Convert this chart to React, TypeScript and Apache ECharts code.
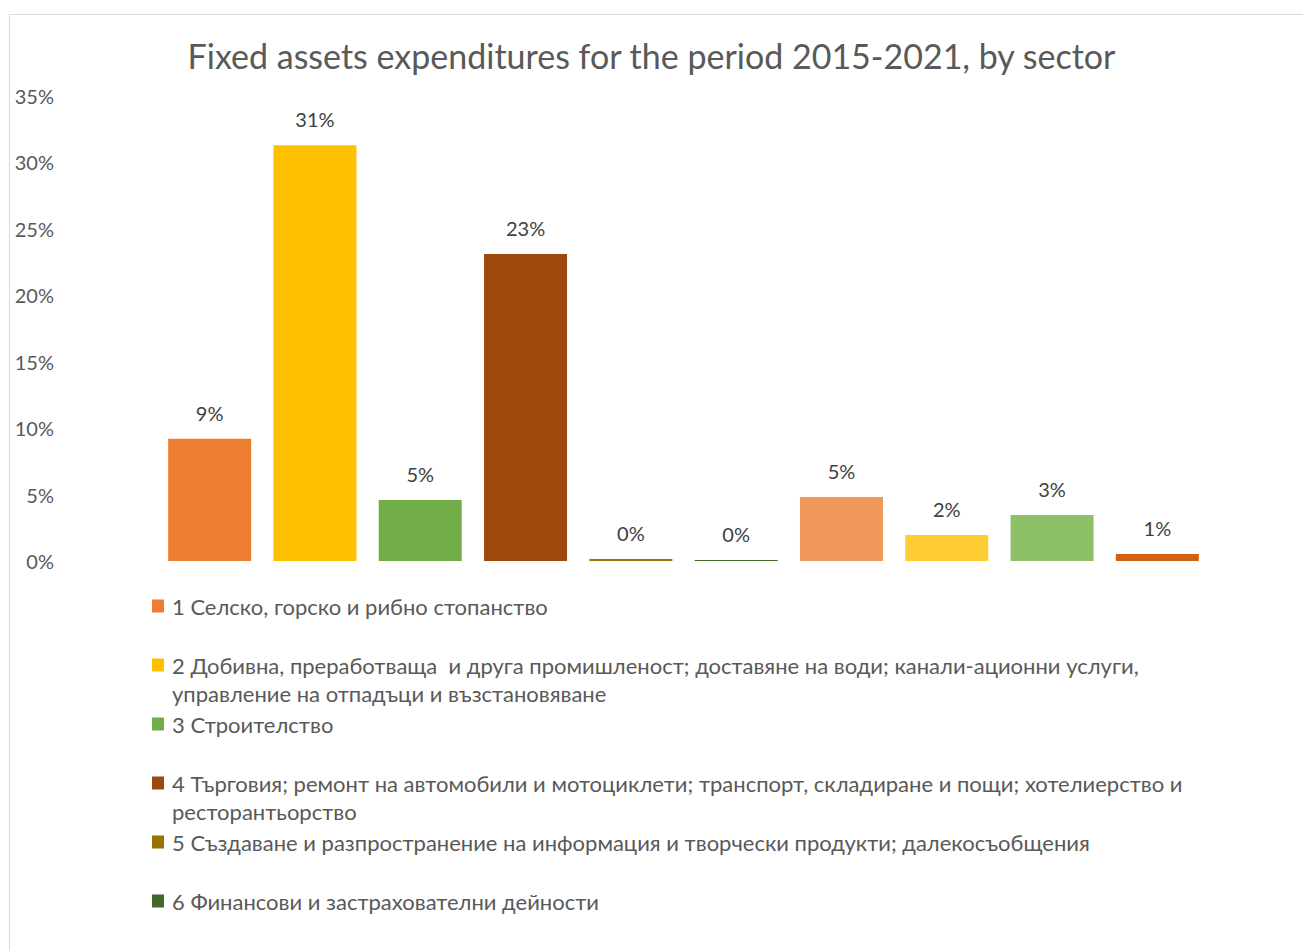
import React, { useEffect, useRef } from "react";
import * as echarts from "echarts";

const sectors = [
  "1 Селско, горско и рибно стопанство",
  "2 Добивна, преработваща  и друга промишленост; доставяне на води; канали-ационни услуги, управление на отпадъци и възстановяване",
  "3 Строителство",
  "4 Търговия; ремонт на автомобили и мотоциклети; транспорт, складиране и пощи; хотелиерство и ресторантьорство",
  "5 Създаване и разпространение на информация и творчески продукти; далекосъобщения",
  "6 Финансови и застрахователни дейности",
  "7 Операции с недвижими имоти",
  "8 Професионални дейности и научни изследвания; административни и спомагателни дейности",
  "9 Държавно управление; образование; хуманно здравеопазване и социална работа",
  "10 Култура, спорт и развлечения; други дейности",
];

// legend text as wrapped in the reference
const legendLabels = [
  "1 Селско, горско и рибно стопанство",
  "2 Добивна, преработваща  и друга промишленост; доставяне на води; канали-ационни услуги,\nуправление на отпадъци и възстановяване",
  "3 Строителство",
  "4 Търговия; ремонт на автомобили и мотоциклети; транспорт, складиране и пощи; хотелиерство и\nресторантьорство",
  "5 Създаване и разпространение на информация и творчески продукти; далекосъобщения",
  "6 Финансови и застрахователни дейности",
];

const shares = [9.2, 31.3, 4.6, 23.1, 0.15, 0.07, 4.82, 1.96, 3.46, 0.52];

const colors = [
  "#ED7D31",
  "#FFC000",
  "#70AD47",
  "#9E480E",
  "#997300",
  "#43682B",
  "#F1975A",
  "#FFCD33",
  "#8CC168",
  "#D26012",
];

const yTicks = [0, 5, 10, 15, 20, 25, 30, 35];

const FONT = "Lato, 'Noto Sans', sans-serif";

export default function App() {
  const ref = useRef<HTMLDivElement>(null);

  useEffect(() => {
    if (!ref.current) return;
    const chart = echarts.init(ref.current, undefined, { renderer: "svg" });

    const series = sectors.map((name, i) => ({
      type: "bar",
      name,
      stack: "total",
      barWidth: 83,
      itemStyle: { color: colors[i] },
      data: shares.map((v, j) => (j === i ? v : null)),
      label: {
        show: true,
        position: "top",
        distance: 16,
        color: "#404040",
        fontSize: 20,
        fontFamily: FONT,
        formatter: (p: any) => (p.value == null ? "" : Math.round(p.value) + "%"),
      },
    }));

    const legendCenters = [606, 665, 724, 783, 842, 901];
    const legends = legendLabels.map((label, i) => {
      const two = label.indexOf("\n") >= 0;
      return {
        data: [sectors[i]],
        orient: "vertical",
        left: 152,
        top: legendCenters[i] - 14,
        padding: 0,
        itemWidth: 15,
        itemHeight: two ? 41 : 13,
        itemGap: 0,
        icon: two ? "path://M0,0h12v13h-12zM15,41h0.01" : "path://M0,0h12v13h-12zM15,13h0.01",
        selectedMode: false,
        formatter: () => label,
        textStyle: {
          color: "#595959",
          fontSize: 22,
          fontFamily: FONT,
          lineHeight: 28,
        },
      };
    });

    chart.setOption({
      animation: false,
      backgroundColor: "#ffffff",
      title: {
        text: "Fixed assets expenditures for the period 2015-2021, by sector",
        left: "center",
        top: 38,
        padding: 0,
        textStyle: {
          color: "#595959",
          fontSize: 34,
          fontWeight: "normal",
          fontFamily: FONT,
        },
      },
      graphic: [
        {
          type: "rect",
          shape: { x: 9.5, y: 14.5, width: 1400, height: 1000 },
          style: { fill: "none", stroke: "#D9D9D9", lineWidth: 1 },
          silent: true,
          z: -10,
        },
      ],
      legend: legends,
      grid: { left: 157, right: 93, top: 96, bottom: 390, containLabel: false },
      xAxis: {
        type: "category",
        data: sectors,
        axisLine: { show: false },
        axisTick: { show: false },
        axisLabel: { show: false },
      },
      yAxis: {
        type: "value",
        min: yTicks[0],
        max: yTicks[yTicks.length - 1],
        interval: 5,
        splitLine: { show: false },
        axisLine: { show: false },
        axisTick: { show: false },
        axisLabel: {
          margin: 103,
          color: "#595959",
          fontSize: 20,
          fontFamily: FONT,
          formatter: (v: number) => v + "%",
        },
      },
      series,
    });

    return () => chart.dispose();
  }, []);

  return (
    <div
      ref={ref}
      style={{ position: "fixed", left: 0, top: 0, width: 1303, height: 951, background: "#fff" }}
    />
  );
}
